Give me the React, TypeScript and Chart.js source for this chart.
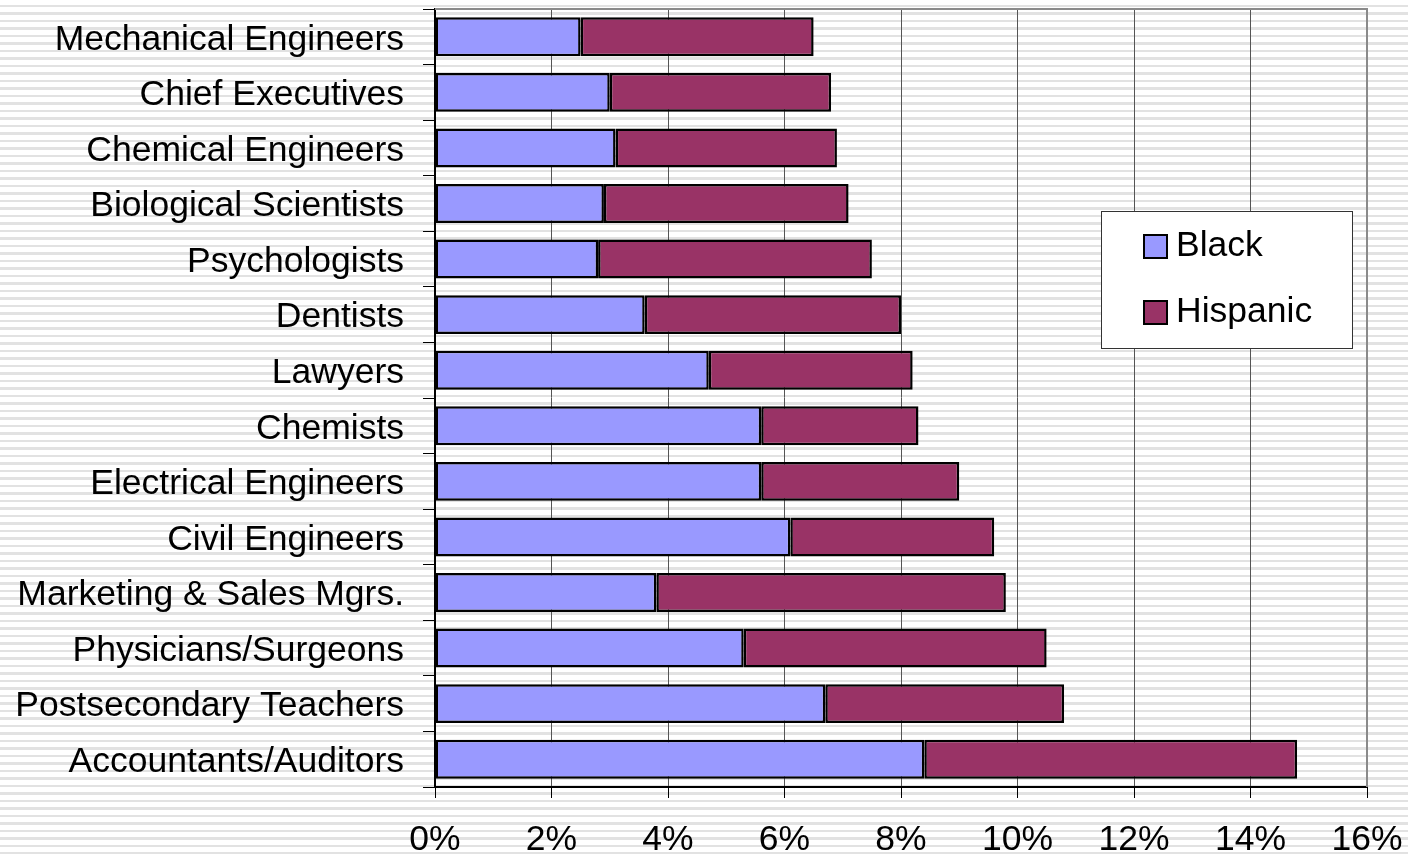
import React, { useEffect, useRef } from "react";
import { Chart, registerables } from "chart.js";

Chart.register(...registerables);

const categories = [
  "Mechanical Engineers",
  "Chief Executives",
  "Chemical Engineers",
  "Biological Scientists",
  "Psychologists",
  "Dentists",
  "Lawyers",
  "Chemists",
  "Electrical Engineers",
  "Civil Engineers",
  "Marketing & Sales Mgrs.",
  "Physicians/Surgeons",
  "Postsecondary Teachers",
  "Accountants/Auditors",
];

const blackValues = [2.5, 3.0, 3.1, 2.9, 2.8, 3.6, 4.7, 5.6, 5.6, 6.1, 3.8, 5.3, 6.7, 8.4];
const hispanicValues = [4.0, 3.8, 3.8, 4.2, 4.7, 4.4, 3.5, 2.7, 3.4, 3.5, 6.0, 5.2, 4.1, 6.4];

const xTicks = [0, 2, 4, 6, 8, 10, 12, 14, 16];

const FONT = "'Liberation Sans', Arial, sans-serif";

const legendBoxPlugin = {
  id: "legendBox",
  afterDraw(chart: any) {
    const ctx = chart.ctx;
    const x = 1101.5, y = 211.5, w = 251, h = 137;
    ctx.save();
    ctx.fillStyle = "#ffffff";
    ctx.fillRect(x, y, w, h);
    ctx.strokeStyle = "#333333";
    ctx.lineWidth = 1;
    ctx.strokeRect(x, y, w, h);
    const rows = [246, 312];
    chart.data.datasets.forEach((ds: any, i: number) => {
      const cy = rows[i];
      ctx.fillStyle = ds.backgroundColor;
      ctx.fillRect(1144, cy - 11, 23, 23);
      ctx.strokeStyle = "#000";
      ctx.lineWidth = 2;
      ctx.strokeRect(1144, cy - 11, 23, 23);
      ctx.fillStyle = "#000";
      ctx.font = `35.5px ${FONT}`;
      ctx.textAlign = "left";
      ctx.textBaseline = "middle";
      ctx.fillText(ds.label, 1176, cy);
    });
    ctx.restore();
  },
};

const frameLinePlugin = {
  id: "frameLine",
  beforeDatasetsDraw(chart: any) {
    const { ctx, chartArea } = chart;
    ctx.save();
    ctx.strokeStyle = "#8a8a8a";
    ctx.lineWidth = 2;
    ctx.beginPath();
    ctx.moveTo(chartArea.left, chartArea.top);
    ctx.lineTo(chartArea.right, chartArea.top);
    ctx.lineTo(chartArea.right, chartArea.bottom);
    ctx.stroke();
    ctx.restore();
  },
};

export default function App() {
  const canvasRef = useRef<HTMLCanvasElement | null>(null);

  useEffect(() => {
    const canvas = canvasRef.current;
    if (!canvas) return;
    const chart = new Chart(canvas, {
      type: "bar",
      data: {
        labels: categories,
        datasets: [
          {
            label: "Black",
            data: blackValues,
            backgroundColor: "#9999FF",
            borderColor: "#000000",
            borderWidth: 2.5,
            borderSkipped: false,
            barPercentage: 0.7,
            categoryPercentage: 1,
          },
          {
            label: "Hispanic",
            data: hispanicValues,
            backgroundColor: "#993366",
            borderColor: "#000000",
            borderWidth: 2.5,
            borderSkipped: false,
            barPercentage: 0.7,
            categoryPercentage: 1,
          },
        ],
      },
      options: {
        indexAxis: "y",
        responsive: false,
        animation: false,
        layout: { padding: { top: 9, right: 41, bottom: 0, left: 0 } },
        plugins: {
          legend: { display: false },
          tooltip: { enabled: false },
        },
        scales: {
          x: {
            stacked: true,
            min: 0,
            max: 16,
            afterBuildTicks: (scale: any) => {
              scale.ticks = xTicks.map((v) => ({ value: v }));
            },
            afterFit: (scale: any) => {
              scale.height = 67;
              scale.paddingLeft = 0;
              scale.paddingRight = 0;
              scale.paddingTop = 0;
              scale.paddingBottom = 0;
            },
            grid: {
              color: "#555555",
              lineWidth: 1,
              drawTicks: true,
              tickLength: 11,
              tickColor: "#000000",
            },
            border: { display: true, color: "#000000", width: 2 },
            ticks: {
              color: "#000000",
              font: { family: FONT, size: 35.5 },
              padding: 21,
              maxRotation: 0,
              callback: (v: any) => `${v}%`,
            },
          },
          y: {
            stacked: true,
            afterFit: (scale: any) => {
              scale.width = 435;
              scale.paddingLeft = 0;
              scale.paddingRight = 0;
              scale.paddingTop = 0;
              scale.paddingBottom = 0;
            },
            grid: {
              drawOnChartArea: false,
              drawTicks: true,
              tickLength: 12,
              tickColor: "#000000",
              offset: true,
            },
            border: { display: true, color: "#000000", width: 2 },
            ticks: {
              color: "#000000",
              font: { family: FONT, size: 35.5 },
              padding: 19,
              labelOffset: 3,
              autoSkip: false,
            },
          },
        },
      },
      plugins: [frameLinePlugin, legendBoxPlugin],
    });
    return () => chart.destroy();
  }, []);

  return (
    <div
      style={{
        position: "fixed",
        left: 0,
        top: 0,
        width: 1408,
        height: 854,
        background:
          "repeating-linear-gradient(to bottom, #ffffff 0px, #ffffff 5px, #e2e2e2 5px, #e2e2e2 7.5px)",
      }}
    >
      <canvas ref={canvasRef} width={1408} height={854} style={{ display: "block" }} />
    </div>
  );
}
